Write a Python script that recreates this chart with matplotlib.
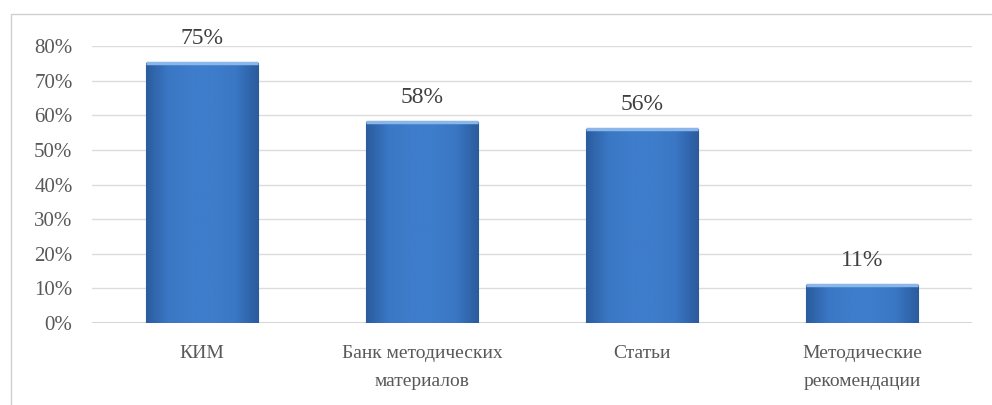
import matplotlib.pyplot as plt
import numpy as np
from matplotlib.patches import Rectangle
from matplotlib.colors import LinearSegmentedColormap

categories = ["КИМ", "Банк методических\nматериалов", "Статьи", "Методические\nрекомендации"]
values = [0.75, 0.58, 0.56, 0.11]
y_ticks = [0.0, 0.1, 0.2, 0.3, 0.4, 0.5, 0.6, 0.7, 0.8]

plt.rcParams["font.family"] = ["Liberation Serif", "DejaVu Serif"]
text_color = "#595959"

fig = plt.figure(figsize=(9.92, 4.05), dpi=100)
fig.patches.append(Rectangle((11 / 992, -0.1), 1.2, (405 - 14) / 405 + 0.1,
                             transform=fig.transFigure, fill=False,
                             edgecolor="#d0d0d0", linewidth=1.0))
ax = fig.add_axes([92 / 992, (405 - 323) / 405, (972 - 92) / 992, (323 - 46) / 405])

x = np.arange(len(categories))
width = 0.505
bars = ax.bar(x, values, width=width, color="#3a74c0", edgecolor="#2a5a9a",
              linewidth=0.8, zorder=2)

# soft shading: darker thin edges, lighter top, darker bottom
cmap_h = LinearSegmentedColormap.from_list(
    "bar", ["#2b5c9e", "#3a77c4", "#3e7dcb", "#3e7dcb", "#3a77c4", "#2b5c9e"])
grad = np.linspace(0, 1, 256).reshape(1, -1)
for b in bars:
    im = ax.imshow(grad, cmap=cmap_h, aspect="auto", zorder=3,
                   extent=(b.get_x(), b.get_x() + b.get_width(), 0, b.get_height()))
    im.set_clip_path(b)
    ax.plot([b.get_x(), b.get_x() + b.get_width()], [b.get_height()] * 2,
            color="#8ab6ea", linewidth=2.5, zorder=4, solid_capstyle="butt")

for xi, v in zip(x, values):
    ax.annotate(f"{round(v * 100)}%", (xi, v), xytext=(0, 10), textcoords="offset points",
                ha="center", va="bottom", fontsize=17, color="#404040")

ax.set_xlim(-0.5, len(categories) - 0.5)
ax.set_ylim(0, 0.8)
ax.set_yticks(y_ticks)
ax.set_yticklabels([f"{round(t * 100)}%" for t in y_ticks])
ax.set_xticks(x)
ax.set_xticklabels(categories, linespacing=1.8)
ax.tick_params(axis="y", length=0, pad=14, labelsize=15, labelcolor=text_color)
ax.tick_params(axis="x", length=0, pad=16, labelsize=14, labelcolor=text_color)
ax.yaxis.grid(True, color="#dcdcdc", linewidth=1.0, zorder=0)
ax.set_axisbelow(True)
for s in ax.spines.values():
    s.set_visible(False)
ax.axhline(0, color="#cfcfcf", linewidth=1.2, zorder=1)

fig.savefig("out.png", dpi=100)
